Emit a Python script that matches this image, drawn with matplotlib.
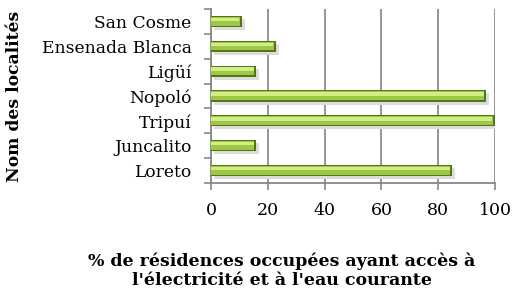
import matplotlib
matplotlib.use("Agg")
import matplotlib.pyplot as plt
import numpy as np

categories = ["Loreto", "Juncalito", "Tripuí", "Nopoló", "Ligüí", "Ensenada Blanca", "San Cosme"]
values = [85, 16, 100, 97, 16, 23, 11]
xticks = [0, 20, 40, 60, 80, 100]

plt.rcParams['font.family'] = ['DejaVu Serif']
fig = plt.figure(figsize=(5.14, 2.94), dpi=100)
ax = fig.add_axes([211/514, 1-183/294, 284/514, 174/294])

y = np.arange(len(categories))
h = 0.45
# shadow
ax.barh(y - 0.12, values, height=h, left=1.0, color="#dcdcdc", zorder=2)
# dark base
ax.barh(y, values, height=h, color="#55741a", zorder=3)
# mid body
ax.barh(y + 0.01, [v - 0.7 for v in values], height=h * 0.78, color="#9ec745", zorder=4)
# light highlight
ax.barh(y + 0.08, [v - 1.0 for v in values], height=h * 0.3, color="#cfee86", zorder=5)

ax.set_xlim(0, 100)
ax.set_ylim(-0.5, len(categories) - 0.5)
ax.set_xticks(xticks)
ax.set_xticklabels([str(t) for t in xticks], fontsize=12.5)
ax.set_yticks(y)
ax.set_yticklabels(categories, fontsize=12.3)
ax.tick_params(axis='y', length=0, pad=14)
ax.set_yticks(np.arange(-0.5, len(categories), 1), minor=True)
ax.tick_params(axis='y', which='minor', length=5, color="#888888", width=1.2)
ax.tick_params(axis='x', length=5, color="#888888", width=1.2, pad=9)
ax.grid(axis='x', color="#8c8c8c", linewidth=1.3, zorder=0)
ax.set_axisbelow(True)
for s in ["top", "right"]:
    ax.spines[s].set_visible(False)
for s in ["left", "bottom"]:
    ax.spines[s].set_color("#888888")
    ax.spines[s].set_linewidth(1.3)

fig.text(15/514, 1-96/294, "Nom des localités", rotation=90, fontsize=12.3,
         fontweight="bold", ha="center", va="center")
fig.text(282/514, 1-271/294, "% de résidences occupées ayant accès à\nl'électricité et à l'eau courante",
         fontsize=12.5, fontweight="bold", ha="center", va="center", linespacing=1.15)

fig.savefig("out.png", dpi=100)
